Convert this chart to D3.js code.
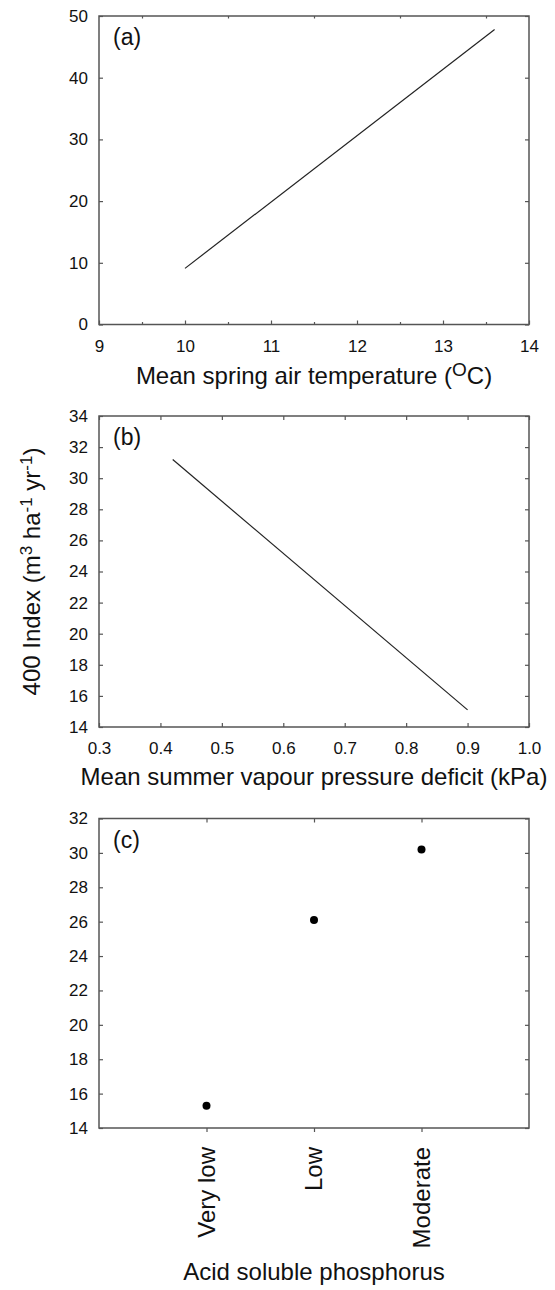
<!DOCTYPE html>
<html>
<head>
<meta charset="utf-8">
<script src="https://cdn.jsdelivr.net/npm/d3@7"></script>
<style>
  body { margin: 0; background: #fff; }
  svg text { font-family: "Liberation Sans", Arial, sans-serif; fill: #111; }
</style>
</head>
<body>
<svg id="canvas"></svg>
<script>
// panel (a): spring temperature
const tempX = [10.0, 13.6];
const tempY = [9.1, 47.8];
const tempXTicks = [9, 10, 11, 12, 13, 14];
const tempXMinor = [9.5, 10.5, 11.5, 12.5, 13.5];
const tempYTicks = [0, 10, 20, 30, 40, 50];

// panel (b): vapour pressure deficit
const vpdX = [0.42, 0.9];
const vpdY = [31.2, 15.1];
const vpdXTicks = [0.3, 0.4, 0.5, 0.6, 0.7, 0.8, 0.9, 1.0];
const vpdYTicks = [14, 16, 18, 20, 22, 24, 26, 28, 30, 32, 34];

// panel (c): acid soluble phosphorus
const phosCats = ["Very low", "Low", "Moderate"];
const phosY = [15.3, 26.1, 30.2];
const phosYTicks = [14, 16, 18, 20, 22, 24, 26, 28, 30, 32];

const width = 555;
const height = 1290;
const left = 99;
const right = 529;
const frameColor = "#555";

const canvas = d3.select("#canvas").attr("width", width).attr("height", height);

const drawFrame = (top, bottom, label) => {
  canvas.append("rect")
    .attr("x", left).attr("y", top)
    .attr("width", right - left).attr("height", bottom - top)
    .attr("fill", "none").attr("stroke", frameColor).attr("stroke-width", 1.5);
  canvas.append("text")
    .attr("x", left + 14).attr("y", top + 29)
    .attr("font-size", 23)
    .text(label);
};

const styleAxis = (g) => {
  g.select(".domain").remove();
  g.selectAll(".tick line").attr("stroke", frameColor).attr("stroke-width", 1.2);
  g.selectAll(".tick text").attr("font-size", 17).attr("fill", "#111");
};

const drawYAxes = (yScale, ticks) => {
  canvas.append("g")
    .attr("transform", `translate(${left}, 0)`)
    .call(d3.axisLeft(yScale).tickValues(ticks).tickSizeInner(-4).tickSizeOuter(0).tickPadding(11).tickFormat(d3.format("d")))
    .call(styleAxis);
  canvas.append("g")
    .attr("transform", `translate(${right}, 0)`)
    .call(d3.axisRight(yScale).tickValues(ticks).tickSizeInner(-4).tickSizeOuter(0).tickFormat(""))
    .call(styleAxis);
};

// ---------- (a) ----------
const aTop = 16, aBottom = 324.5;
const xA = d3.scaleLinear().domain([9, 14]).range([left, right]);
const yA = d3.scaleLinear().domain([0, 50]).range([aBottom, aTop]);

drawFrame(aTop, aBottom, "(a)");
drawYAxes(yA, tempYTicks);

canvas.append("g")
  .attr("transform", `translate(0, ${aBottom})`)
  .call(d3.axisBottom(xA).tickValues(tempXTicks).tickSizeInner(-4).tickSizeOuter(0).tickPadding(15).tickFormat(d3.format("d")))
  .call(styleAxis);
canvas.append("g")
  .attr("transform", `translate(0, ${aBottom})`)
  .call(d3.axisBottom(xA).tickValues(tempXMinor).tickSizeInner(-2.5).tickSizeOuter(0).tickFormat(""))
  .call(styleAxis);
canvas.append("g")
  .attr("transform", `translate(0, ${aTop})`)
  .call(d3.axisTop(xA).tickValues(tempXMinor).tickSizeInner(-2.5).tickSizeOuter(0).tickFormat(""))
  .call(styleAxis);

canvas.append("path")
  .datum(tempX.map((x, i) => [x, tempY[i]]))
  .attr("fill", "none").attr("stroke", "#222").attr("stroke-width", 1.2)
  .attr("d", d3.line().x((d) => xA(d[0])).y((d) => yA(d[1])));

const titleA = canvas.append("text")
  .attr("x", (left + right) / 2).attr("y", 384)
  .attr("text-anchor", "middle").attr("font-size", 24);
titleA.append("tspan").text("Mean spring air temperature (");
titleA.append("tspan").attr("dy", -8).attr("font-size", 19).text("O");
titleA.append("tspan").attr("dy", 8).text("C)");

// ---------- (b) ----------
const bTop = 416, bBottom = 727;
const xB = d3.scaleLinear().domain([0.3, 1.0]).range([left, right]);
const yB = d3.scaleLinear().domain([14, 34]).range([bBottom, bTop]);

drawFrame(bTop, bBottom, "(b)");
drawYAxes(yB, vpdYTicks);

canvas.append("g")
  .attr("transform", `translate(0, ${bBottom})`)
  .call(d3.axisBottom(xB).tickValues(vpdXTicks).tickSizeInner(-4).tickSizeOuter(0).tickPadding(15).tickFormat(d3.format(".1f")))
  .call(styleAxis);
canvas.append("g")
  .attr("transform", `translate(0, ${bTop})`)
  .call(d3.axisTop(xB).tickValues(vpdXTicks).tickSizeInner(-4).tickSizeOuter(0).tickFormat(""))
  .call(styleAxis);

canvas.append("path")
  .datum(vpdX.map((x, i) => [x, vpdY[i]]))
  .attr("fill", "none").attr("stroke", "#222").attr("stroke-width", 1.2)
  .attr("d", d3.line().x((d) => xB(d[0])).y((d) => yB(d[1])));

canvas.append("text")
  .attr("x", (left + right) / 2).attr("y", 785)
  .attr("text-anchor", "middle").attr("font-size", 24)
  .text("Mean summer vapour pressure deficit (kPa)");

// shared y title
const yTitle = canvas.append("text")
  .attr("transform", `translate(40, ${(bTop + bBottom) / 2}) rotate(-90)`)
  .attr("text-anchor", "middle").attr("font-size", 24);
yTitle.append("tspan").text("400 Index (m");
yTitle.append("tspan").attr("dy", -8).attr("font-size", 17).text("3");
yTitle.append("tspan").attr("dy", 8).text(" ha");
yTitle.append("tspan").attr("dy", -8).attr("font-size", 17).text("-1");
yTitle.append("tspan").attr("dy", 8).text(" yr");
yTitle.append("tspan").attr("dy", -8).attr("font-size", 17).text("-1");
yTitle.append("tspan").attr("dy", 8).text(")");

// ---------- (c) ----------
const cTop = 818.5, cBottom = 1128;
const xC = d3.scalePoint().domain(phosCats).range([left, right]).padding(1);
const yC = d3.scaleLinear().domain([14, 32]).range([cBottom, cTop]);

drawFrame(cTop, cBottom, "(c)");
drawYAxes(yC, phosYTicks);

canvas.append("g")
  .attr("transform", `translate(0, ${cBottom})`)
  .call(d3.axisBottom(xC).tickSizeInner(4).tickSizeOuter(0).tickFormat(""))
  .call(styleAxis);
canvas.append("g")
  .attr("transform", `translate(0, ${cTop})`)
  .call(d3.axisTop(xC).tickSizeInner(-4).tickSizeOuter(0).tickFormat(""))
  .call(styleAxis);

canvas.selectAll(".cat-label")
  .data(phosCats)
  .enter()
  .append("text")
  .attr("class", "cat-label")
  .attr("transform", (d) => `translate(${xC(d)}, ${cBottom + 19}) rotate(-90)`)
  .attr("text-anchor", "end")
  .attr("dy", "0.35em")
  .attr("font-size", 24)
  .text((d) => d);

canvas.selectAll(".dot")
  .data(phosCats)
  .enter()
  .append("circle")
  .attr("class", "dot")
  .attr("cx", (d) => xC(d))
  .attr("cy", (d, i) => yC(phosY[i]))
  .attr("r", 4)
  .attr("fill", "#000");

canvas.append("text")
  .attr("x", (left + right) / 2).attr("y", 1280)
  .attr("text-anchor", "middle").attr("font-size", 24)
  .text("Acid soluble phosphorus");
</script>
</body>
</html>
